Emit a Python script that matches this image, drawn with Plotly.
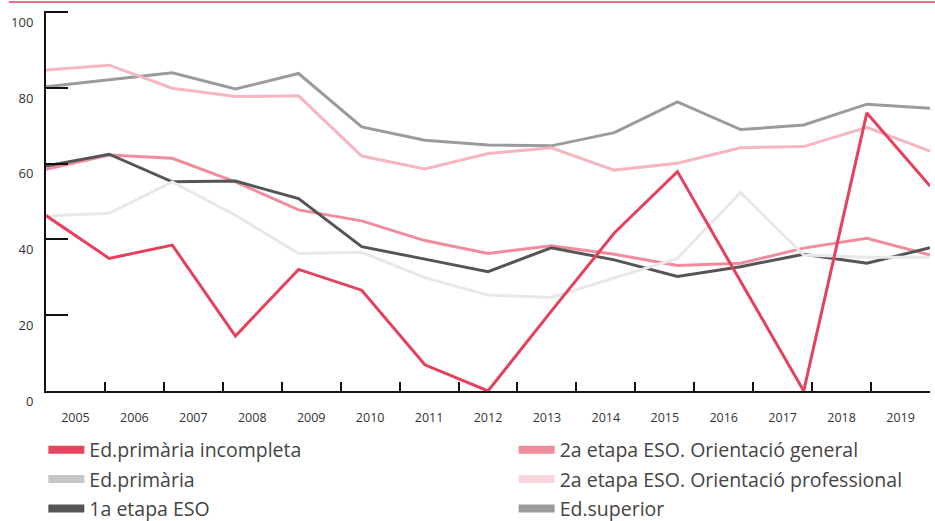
import plotly.graph_objects as go

years = [2005, 2006, 2007, 2008, 2009, 2010, 2011, 2012, 2013, 2014, 2015, 2016, 2017, 2018, 2019]
year_labels = [str(y) for y in years]

prim_incompleta = [46.3, 35.0, 38.5, 14.5, 32.1, 26.6, 6.9, 0.0, 21.0, 41.7, 57.9, 29.0, 0.0, 73.4, 54.1]
primaria = [46.2, 46.9, 55.2, 46.4, 36.3, 36.6, 29.9, 25.3, 24.7, 29.8, 35.0, 52.4, 35.9, 35.3, 35.3]
eso_1a = [59.4, 62.5, 55.2, 55.4, 50.8, 38.1, 34.8, 31.5, 37.8, 34.6, 30.2, 32.8, 36.1, 33.7, 37.8]
eso_2a_general = [58.5, 62.3, 61.4, 55.2, 47.8, 44.9, 39.7, 36.3, 38.3, 36.1, 33.1, 33.7, 37.7, 40.3, 35.9]
eso_2a_prof = [84.7, 86.0, 79.9, 77.7, 77.9, 62.0, 58.6, 62.7, 64.2, 58.3, 60.1, 64.2, 64.5, 69.6, 63.3]
superior = [80.3, 82.1, 84.0, 79.7, 83.8, 69.7, 66.2, 64.9, 64.7, 68.2, 76.3, 69.0, 70.2, 75.7, 74.6]

yticks = [0, 20, 40, 60, 80, 100]

# name, values, line colour, legend swatch colour, legend
series = [
    ("Ed.primària incompleta", prim_incompleta, "#e5415c", "#e6445f", "legend"),
    ("Ed.primària", primaria, "#e8e8e8", "#c6c6c6", "legend"),
    ("1a etapa ESO", eso_1a, "#555555", "#555555", "legend"),
    ("2a etapa ESO. Orientació general", eso_2a_general, "#f08c9c", "#f08c9c", "legend2"),
    ("2a etapa ESO. Orientació professional", eso_2a_prof, "#f7b5c0", "#f9d5dc", "legend2"),
    ("Ed.superior", superior, "#9b9b9b", "#9b9b9b", "legend2"),
]

fig = go.Figure()

# draw last series first so the red line ends on top
for name, vals, col, _, _ in reversed(series):
    fig.add_trace(go.Scatter(x=years, y=vals, mode="lines", name=name,
                             line=dict(color=col, width=3), showlegend=False))

# legend swatches
for i, (name, _, _, swatch, leg) in enumerate(series):
    fig.add_trace(go.Scatter(x=[None], y=[None], mode="lines", name=name,
                             line=dict(color=swatch, width=8), legend=leg,
                             legendgroup=str(i), showlegend=True))

# category axis only for the year bands
fig.add_trace(go.Scatter(x=year_labels, y=[None] * len(years), xaxis="x2",
                         mode="lines", showlegend=False, hoverinfo="skip"))

legend_font = dict(family="Open Sans", size=19.5, color="#444444")
fig.update_layout(
    width=935, height=521,
    margin=dict(l=46, r=5, t=11, b=130, autoexpand=False),
    paper_bgcolor="white", plot_bgcolor="white",
    font=dict(family="Open Sans", size=13, color="#333333"),
    xaxis=dict(range=[2005, 2019], showgrid=False, zeroline=False,
               showticklabels=False, ticks="", showline=False, automargin=False),
    xaxis2=dict(type="category", overlaying="x", side="bottom",
                categoryorder="array", categoryarray=year_labels,
                range=[-0.5, len(years) - 0.5], tickson="boundaries",
                ticks="inside", ticklen=9, tickwidth=2, tickcolor="#111111",
                showline=True, linecolor="#111111", linewidth=2,
                showgrid=False, zeroline=False, ticklabelstandoff=14,
                automargin=False, tickfont=dict(size=12.5, color="#333333")),
    yaxis=dict(range=[-0.01, 100.3], tickvals=yticks, ticks="inside", ticklen=22,
               tickwidth=2, tickcolor="#111111", showline=True,
               linecolor="#111111", linewidth=2, showgrid=False,
               zeroline=False, ticklabelposition="outside bottom",
               ticklabelstandoff=8, automargin=False,
               tickfont=dict(size=13, color="#333333")),
    legend=dict(x=-0.003, y=-0.362, xanchor="left", yanchor="bottom",
                orientation="v", font=legend_font, tracegroupgap=1,
                itemwidth=36, bgcolor="rgba(0,0,0,0)"),
    legend2=dict(x=0.529, y=-0.362, xanchor="left", yanchor="bottom",
                 orientation="v", font=legend_font, tracegroupgap=1,
                 itemwidth=36, bgcolor="rgba(0,0,0,0)"),
    shapes=[dict(type="line", xref="paper", yref="paper", x0=-0.042, x1=1.006,
                 y0=1.024, y1=1.024, line=dict(color="#e5415c", width=1.5))],
)

# drop the default page margin so the figure sits at the window corner
fig.write_html("out.html", config={"displayModeBar": False},
               post_script="document.body.style.margin='0';")
